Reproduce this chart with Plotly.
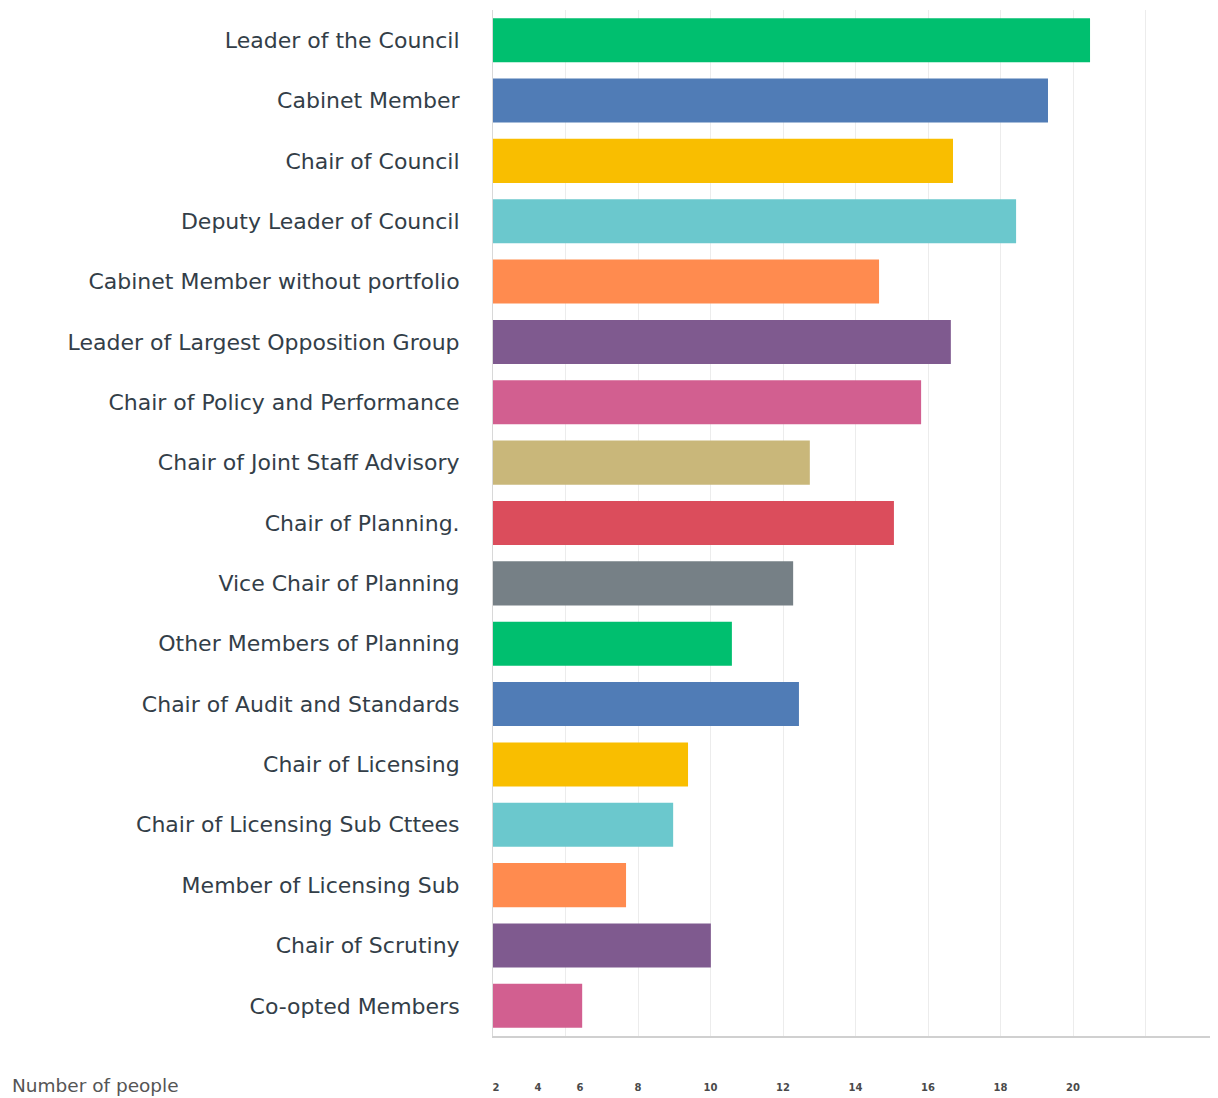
import plotly.graph_objects as go

categories = [
    "Leader of the Council", "Cabinet Member", "Chair of Council",
    "Deputy Leader of Council", "Cabinet Member without portfolio",
    "Leader of Largest Opposition Group", "Chair of Policy and Performance",
    "Chair of Joint Staff Advisory", "Chair of Planning.", "Vice Chair of Planning",
    "Other Members of Planning", "Chair of Audit and Standards", "Chair of Licensing",
    "Chair of Licensing Sub Cttees", "Member of Licensing Sub", "Chair of Scrutiny",
    "Co-opted Members",
]
values = [20.47, 19.31, 16.69, 18.43, 14.65, 16.63, 15.81, 12.74, 15.06, 12.28,
          10.59, 12.44, 9.38, 8.97, 7.67, 10.01, 6.46]
palette = ["#00BF6F", "#507CB6", "#F9BE00", "#6BC8CD", "#FF8B4F",
           "#7F5A8F", "#D25F90", "#C9B77A", "#DB4D5C", "#768086"]
colors = [palette[i % len(palette)] for i in range(len(categories))]

grid_vals = [6, 8, 10, 12, 14, 16, 18, 20, 22]
tick_labels = ["2", "4", "6", "8", "10", "12", "14", "16", "18", "20"]
tick_pos = [4.08, 5.24, 6.4, 8.0, 10.0, 12.0, 14.0, 16.0, 18.0, 20.0]

# page body has an 8px default margin; compensate so the plot sits where the reference has it
W, H = 1210, 1090
L, T, B, R = 485, 2, 62, 0
plot_w = W - L - R

fig = go.Figure()
fig.add_trace(go.Bar(
    y=categories, x=values, orientation="h",
    marker=dict(color=colors, line=dict(width=0)),
    hoverinfo="x+y",
))
fig.add_trace(go.Scatter(x=[None], y=[None], xaxis="x2", showlegend=False))

fig.update_layout(
    width=W, height=H,
    margin=dict(l=L, r=R, t=T, b=B),
    plot_bgcolor="white", paper_bgcolor="white",
    showlegend=False, bargap=0.27,
    font=dict(family="DejaVu Sans", color="#333e48"),
    yaxis=dict(
        categoryorder="array", categoryarray=categories[::-1],
        tickfont=dict(size=22, color="#333e48", family="DejaVu Sans"),
        ticks="", ticklabelstandoff=28,
        showline=True, linecolor="#d8d8d8", linewidth=1,
        showgrid=False, zeroline=False,
    ),
    xaxis=dict(
        range=[4, 24], tickvals=grid_vals, showticklabels=False,
        showgrid=True, gridcolor="#ececec", gridwidth=1,
        showline=True, linecolor="#d0d0d0", linewidth=2,
        zeroline=False, ticks="",
    ),
    xaxis2=dict(
        range=[4, 24], overlaying="x", side="bottom", anchor="y",
        tickvals=tick_pos, ticktext=tick_labels, showgrid=False,
        showline=False, zeroline=False, ticks="", ticklabelstandoff=44,
        tickfont=dict(size=10, color="#4a4a4a", family="DejaVu Sans", weight="bold"),
    ),
    annotations=[dict(
        text="Number of people", xref="paper", yref="paper",
        x=(2 - L) / plot_w, y=-(1085 - 8 - (H - B)) / (H - T - B),
        xanchor="left", yanchor="middle",
        showarrow=False, font=dict(size=18.5, color="#555555", family="DejaVu Sans"),
    )],
)

fig.write_html("out.html")
